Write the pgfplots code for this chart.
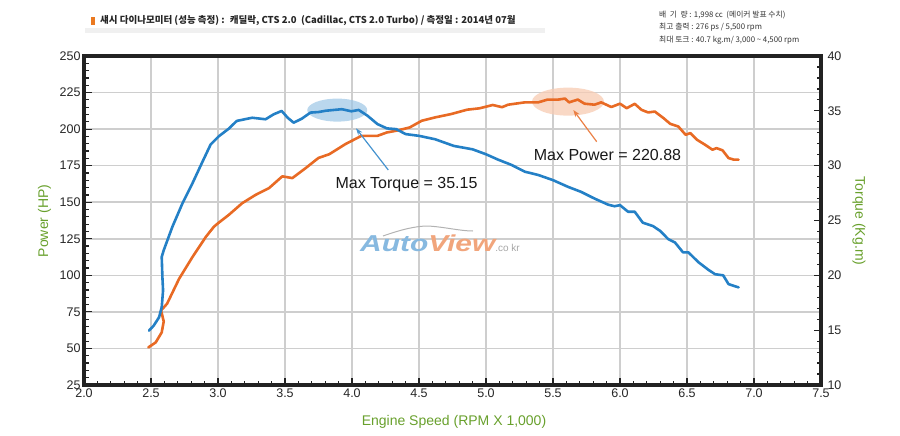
\documentclass[border=0pt]{standalone}
\usepackage{fontspec}
\setmainfont{Liberation Sans}
\newfontfamily\kr{Noto Sans CJK KR}
\usepackage{pgfplots}
\pgfplotsset{compat=1.18}
\usetikzlibrary{arrows.meta}
\definecolor{tqblue}{RGB}{36,128,198}
\definecolor{pwor}{RGB}{232,106,36}
\definecolor{axgreen}{RGB}{104,160,44}
\definecolor{gridc}{RGB}{206,206,206}
\definecolor{framec}{RGB}{34,34,34}
\begin{document}
\begin{tikzpicture}
\begin{scope}[x=1pt,y=1pt]
\path[use as bounding box] (0,0) rectangle (900,-436);
% header
\fill[black!6] (85,-28) rectangle (545,-33);
\fill[pwor!90!yellow] (91,-17) rectangle (95,-25);
\node[anchor=west, inner sep=0pt, font=\kr\fontsize{9.5}{11}\selectfont\bfseries, text=black!85] at (100,-21) {섀시 다이나모미터 (성능 측정)~:~ 캐딜락, CTS 2.0~ (Cadillac, CTS 2.0 Turbo) / 측정일 : 2014년 07월};
\node[anchor=west, inner sep=0pt, font=\kr\fontsize{7.8}{9}\selectfont, text=black!80] at (659,-15) {배\ \ 기\ \ 량 : 1,998 cc~ (메이커 발표 수치)};
\node[anchor=west, inner sep=0pt, font=\kr\fontsize{7.8}{9}\selectfont, text=black!80] at (659,-27.5) {최고 출력 : 276 ps / 5,500 rpm};
\node[anchor=west, inner sep=0pt, font=\kr\fontsize{7.8}{9}\selectfont, text=black!80] at (659,-40) {최대 토크 : 40.7 kg.m/ 3,000 \textasciitilde{} 4,500 rpm};
\end{scope}

% grid only
\begin{axis}[
  at={(84pt,-385pt)}, anchor=south west,
  scale only axis, width=737pt, height=329pt,
  xmin=2, xmax=7.5, ymin=25, ymax=250,
  xtick={2,2.5,3,3.5,4,4.5,5,5.5,6,6.5,7,7.5},
  ytick={25,50,75,100,125,150,175,200,225,250},
  xticklabels={}, yticklabels={},
  major tick length=0pt,
  grid=major, major grid style={gridc, line width=1.6pt},
  axis line style={framec, line width=3.2pt},
]
\end{axis}

% power axis: ticks, labels, curve
\begin{axis}[
  at={(84pt,-385pt)}, anchor=south west,
  scale only axis, width=737pt, height=329pt,
  xmin=2, xmax=7.5, ymin=25, ymax=250,
  xtick={2,2.5,3,3.5,4,4.5,5,5.5,6,6.5,7,7.5},
  ytick={25,50,75,100,125,150,175,200,225,250},
  minor x tick num=4, minor y tick num=4,
  xtick pos=left, ytick pos=left,
  major tick length=7.5pt, minor tick length=4.5pt,
  every tick/.style={color=framec, line width=1.2pt},
  axis line style={framec, line width=3.2pt},
  /pgf/number format/assume math mode=true,
  xticklabel={\pgfmathprintnumber[fixed,fixed zerofill,precision=1]{\tick}},
  xticklabel style={font=\fontsize{12.5}{14}\selectfont, text=black!85},
  yticklabel style={font=\fontsize{12.5}{14}\selectfont, text=black!85},
]
\fill[tqblue!45, opacity=0.7] (axis cs:3.89,213) ellipse [x radius=30pt, y radius=11.5pt];
\fill[pwor!35, opacity=0.75] (axis cs:5.612,218.8) ellipse [x radius=36pt, y radius=14pt];
\addplot[pwor, line width=2.6pt, line join=round, line cap=round] coordinates {
(2.48,50.7) (2.535,54.1) (2.58,61.0) (2.595,68.5) (2.575,76.0) (2.62,80.6) (2.71,97.7)
(2.81,112.6) (2.91,126.4) (2.97,133.3) (3.0,135.6) (3.08,141.3) (3.18,149.3) (3.28,155.0)
(3.38,159.6) (3.48,167.7) (3.555,166.5) (3.655,173.4) (3.75,180.3) (3.83,182.8) (3.95,189.7)
(4.07,195.4) (4.19,195.4) (4.26,197.7) (4.33,198.9) (4.43,201.1) (4.52,205.7) (4.62,208.0)
(4.74,210.3) (4.86,213.3) (4.95,214.2) (5.05,216.5) (5.12,215.0) (5.165,216.7) (5.29,218.3)
(5.39,218.3) (5.46,220.2) (5.54,220.2) (5.59,220.88) (5.62,218.3) (5.685,220.2) (5.735,217.4)
(5.81,216.7) (5.86,218.3) (5.935,215.1) (6.0,217.4) (6.05,214.3) (6.11,217.3) (6.16,213.2)
(6.21,211.4) (6.26,212.0) (6.325,207.5) (6.375,203.6) (6.435,201.8) (6.49,196.1) (6.525,197.3)
(6.575,192.7) (6.635,189.3) (6.69,185.9) (6.72,187.0) (6.765,185.5) (6.81,180.2) (6.85,179.1)
(6.885,179.1)
};
% tick marks along the frame
\pgfplotsinvokeforeach{2.1,2.2,...,7.45}{\draw[framec, line width=1.2pt] (axis cs:#1,25) -- ++(0pt,4.5pt);}
\pgfplotsinvokeforeach{2.5,3,...,7.1}{\draw[framec, line width=1.2pt] (axis cs:#1,25) -- ++(0pt,7.5pt);}
\pgfplotsinvokeforeach{30,35,...,246}{\draw[framec, line width=1.2pt] (axis cs:2,#1) -- ++(4.5pt,0pt);}
\pgfplotsinvokeforeach{50,75,...,226}{\draw[framec, line width=1.2pt] (axis cs:2,#1) -- ++(7.5pt,0pt);}
\end{axis}

% torque axis on the right
\begin{axis}[
  at={(84pt,-385pt)}, anchor=south west,
  scale only axis, width=737pt, height=329pt,
  xmin=2, xmax=7.5, ymin=10, ymax=40,
  axis x line=none, axis y line*=right,
  ytick={10,15,20,25,30,35,40},
  minor y tick num=4,
  tick align=inside,
  major tick length=7.5pt, minor tick length=4.5pt,
  every tick/.style={color=framec, line width=1.2pt},
  axis line style={framec, line width=3.2pt, -},
  /pgf/number format/assume math mode=true,
  yticklabel style={font=\fontsize{12.5}{14}\selectfont, text=black!85, xshift=3pt},
]
\addplot[tqblue, line width=2.6pt, line join=round, line cap=round] coordinates {
(2.485,14.96) (2.52,15.41) (2.56,16.17) (2.58,17.09) (2.59,18.63) (2.585,19.85) (2.58,21.68)
(2.595,22.29) (2.66,24.44) (2.735,26.57) (2.81,28.41) (2.88,30.25) (2.945,31.93) (3.007,32.69)
(3.08,33.37) (3.14,34.08) (3.255,34.37) (3.355,34.23) (3.415,34.68) (3.475,34.99) (3.52,34.37)
(3.565,33.92) (3.626,34.29) (3.69,34.84) (3.75,34.89) (3.805,35.01) (3.924,35.15) (3.995,34.96)
(4.05,35.08) (4.115,34.56) (4.19,33.79) (4.26,33.40) (4.33,33.33) (4.40,32.88) (4.50,32.72)
(4.62,32.41) (4.76,31.80) (4.90,31.49) (5.00,31.04) (5.09,30.55) (5.19,30.07) (5.29,29.45)
(5.39,29.15) (5.50,28.68) (5.61,28.08) (5.71,27.61) (5.81,27.00) (5.91,26.45) (5.96,26.30)
(6.00,26.40) (6.06,25.80) (6.11,25.80) (6.17,24.80) (6.245,24.50) (6.30,24.05) (6.36,23.30)
(6.41,23.00) (6.47,22.10) (6.51,22.10) (6.585,21.20) (6.66,20.50) (6.71,20.10) (6.77,20.00)
(6.81,19.20) (6.885,18.90)
};
\pgfplotsinvokeforeach{11,12,...,39}{\draw[framec, line width=1.2pt] (axis cs:7.5,#1) -- ++(-4.5pt,0pt);}
\pgfplotsinvokeforeach{15,20,...,35}{\draw[framec, line width=1.2pt] (axis cs:7.5,#1) -- ++(-7.5pt,0pt);}
\end{axis}

\begin{scope}[x=1pt,y=1pt]
% axis titles
\node[rotate=90, text=axgreen, font=\fontsize{14}{16}\selectfont] at (44.5,-221) {Power (HP)};
\node[rotate=-90, text=axgreen, font=\fontsize{14}{16}\selectfont] at (859,-221) {Torque (Kg.m)};
\node[text=axgreen, font=\fontsize{14}{16}\selectfont] at (454,-421.7) {Engine Speed (RPM X 1,000)};
% annotations
\draw[tqblue!85, line width=1.2pt, -{Stealth[length=7pt,width=5pt]}] (388.3,-170) -- (356,-128.3);
\draw[pwor!85, line width=1.2pt, -{Stealth[length=7pt,width=5pt]}] (596.7,-141.7) -- (573.3,-110);
\node[font=\fontsize{16}{18}\selectfont, text=black!90] at (406.5,-185) {Max Torque = 35.15};
\node[font=\fontsize{16}{18}\selectfont, text=black!90] at (607.5,-155) {Max Power = 220.88};
% watermark logo
\draw[black!30, line width=1pt] (383,-236) .. controls (400,-230) and (415,-226) .. (428,-226) .. controls (445,-227) and (460,-231) .. (473,-231);
\node[anchor=west, inner sep=0pt] at (360,-243) {\scalebox{1.3}[1]{\fontsize{23}{25}\selectfont\bfseries\itshape\textcolor{tqblue!55}{Auto}\textcolor{pwor!60}{View}}\fontsize{10}{11}\selectfont\textcolor{black!35}{.co kr}};
\end{scope}
\end{tikzpicture}
\end{document}
